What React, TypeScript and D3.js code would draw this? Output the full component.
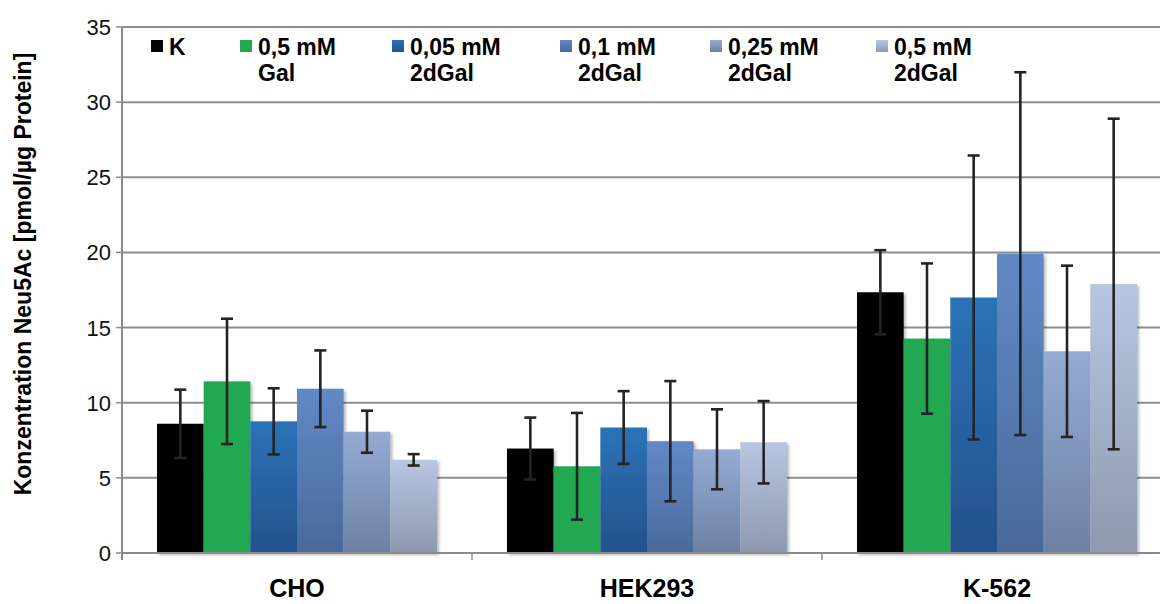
import React from "react";
import * as d3 from "d3";

// Cell lines on the x axis
const categories = ["CHO", "HEK293", "K-562"];

// Treatment series (legend order)
const seriesKeys = ["K", "Gal05", "dGal005", "dGal01", "dGal025", "dGal05"];
const seriesLines = [
  ["K"],
  ["0,5 mM", "Gal"],
  ["0,05 mM", "2dGal"],
  ["0,1 mM", "2dGal"],
  ["0,25 mM", "2dGal"],
  ["0,5 mM", "2dGal"],
];

// Mean Neu5Ac concentration [pmol/µg protein], per series, per cell line
const valK = [8.6, 6.95, 17.35];
const valGal05 = [11.42, 5.77, 14.27];
const valDGal005 = [8.76, 8.35, 17.0];
const valDGal01 = [10.93, 7.44, 19.92];
const valDGal025 = [8.07, 6.9, 13.42];
const valDGal05 = [6.2, 7.37, 17.9];

// Standard deviations (symmetric error bars)
const errK = [2.27, 2.06, 2.8];
const errGal05 = [4.17, 3.55, 5.0];
const errDGal005 = [2.2, 2.42, 9.45];
const errDGal01 = [2.55, 4.0, 12.07];
const errDGal025 = [1.4, 2.66, 5.7];
const errDGal05 = [0.38, 2.74, 11.0];

const yTicks = [0, 5, 10, 15, 20, 25, 30, 35];

const values = [valK, valGal05, valDGal005, valDGal01, valDGal025, valDGal05];
const errors = [errK, errGal05, errDGal005, errDGal01, errDGal025, errDGal05];

// Fill styles: [top, bottom] of a vertical gradient
const fills: [string, string][] = [
  ["#050505", "#050505"],
  ["#22a851", "#22a851"],
  ["#2c72b8", "#23528b"],
  ["#6189c6", "#4a699a"],
  ["#95abd4", "#6c81a2"],
  ["#b8c6e2", "#8c99af"],
];

// Legend entry x positions (marker left edge)
const legendX = [151, 240, 392, 560, 710, 876];

const W = 1160;
const H = 604;
const left = 122;
const catWidth = 350;
const yTop = 27;
const yBottom = 553;

export default function App() {
  const x0 = d3
    .scaleBand<string>()
    .domain(categories)
    .range([left, left + catWidth * categories.length])
    .padding(0);
  const x1 = d3
    .scaleBand<string>()
    .domain(seriesKeys)
    .range([0, x0.bandwidth()])
    .paddingInner(0)
    .paddingOuter(0.75);
  const y = d3.scaleLinear().domain([0, 35]).range([yBottom, yTop]);

  const font = "'Liberation Sans', Arial, sans-serif";
  const capHalf = 6;

  return (
    <svg
      width={W}
      height={H}
      style={{ position: "absolute", left: 0, top: 0, display: "block", background: "#fff" }}
      fontFamily={font}
    >
      <defs>
        {fills.map((f, i) => (
          <linearGradient key={i} id={`g${i}`} x1="0" y1="0" x2="0" y2="1">
            <stop offset="0" stopColor={f[0]} />
            <stop offset="1" stopColor={f[1]} />
          </linearGradient>
        ))}
        <filter id="shadow" x="-10%" y="-10%" width="130%" height="130%">
          <feDropShadow dx="2" dy="2" stdDeviation="1.6" floodColor="#000" floodOpacity="0.28" />
        </filter>
      </defs>

      {/* gridlines */}
      {yTicks.slice(1).map((t) => (
        <line key={t} x1={left} x2={W} y1={y(t)} y2={y(t)} stroke="#8e8e8e" strokeWidth={2} />
      ))}

      {/* bars */}
      {categories.map((c, ci) => (
        <g key={c}>
          {seriesKeys.map((s, si) => {
            const bx = (x0(c) as number) + (x1(s) as number);
            const v = values[si][ci];
            return (
              <rect
                key={s}
                x={bx}
                y={y(v)}
                width={x1.bandwidth()}
                height={y(0) - y(v)}
                fill={`url(#g${si})`}
                filter="url(#shadow)"
              />
            );
          })}
        </g>
      ))}

      {/* error bars */}
      {categories.map((c, ci) => (
        <g key={c} stroke="#242424" strokeWidth={2.6}>
          {seriesKeys.map((s, si) => {
            const cx = (x0(c) as number) + (x1(s) as number) + x1.bandwidth() / 2;
            const v = values[si][ci];
            const e = errors[si][ci];
            const yHi = y(v + e);
            const yLo = y(v - e);
            return (
              <g key={s}>
                <line x1={cx} x2={cx} y1={yHi} y2={yLo} />
                <line x1={cx - capHalf} x2={cx + capHalf} y1={yHi} y2={yHi} />
                <line x1={cx - capHalf} x2={cx + capHalf} y1={yLo} y2={yLo} />
              </g>
            );
          })}
        </g>
      ))}

      {/* x axis */}
      <line x1={left} x2={W} y1={yBottom} y2={yBottom} stroke="#8a8a8a" strokeWidth={2} />
      {categories.map((c) => (
        <line
          key={c}
          x1={x0(c) as number}
          x2={x0(c) as number}
          y1={yBottom}
          y2={yBottom + 7}
          stroke="#8a8a8a"
          strokeWidth={1.5}
        />
      ))}
      {categories.map((c) => (
        <text
          key={c}
          x={(x0(c) as number) + x0.bandwidth() / 2}
          y={597}
          textAnchor="middle"
          fontSize={25}
          fontWeight="bold"
          fill="#000"
        >
          {c}
        </text>
      ))}

      {/* y axis */}
      <line x1={left} x2={left} y1={yTop} y2={yBottom + 7} stroke="#8a8a8a" strokeWidth={2} />
      {yTicks.map((t) => (
        <g key={t}>
          <line x1={left - 6} x2={left} y1={y(t)} y2={y(t)} stroke="#8a8a8a" strokeWidth={1.5} />
          <text x={111} y={y(t) + 8} textAnchor="end" fontSize={22} fill="#111">
            {t}
          </text>
        </g>
      ))}
      <text
        transform={`translate(31, 274) rotate(-90)`}
        textAnchor="middle"
        fontSize={23}
        fontWeight="bold"
        fill="#000"
      >
        Konzentration Neu5Ac [pmol/µg Protein]
      </text>

      {/* legend */}
      {seriesLines.map((lines, i) => (
        <g key={i}>
          <rect x={legendX[i]} y={40} width={12} height={12} fill={`url(#g${i})`} />
          <text fontSize={23} fontWeight="bold" fill="#000">
            {lines.map((ln, li) => (
              <tspan key={li} x={legendX[i] + 18} y={55 + li * 26}>
                {ln}
              </tspan>
            ))}
          </text>
        </g>
      ))}
    </svg>
  );
}
